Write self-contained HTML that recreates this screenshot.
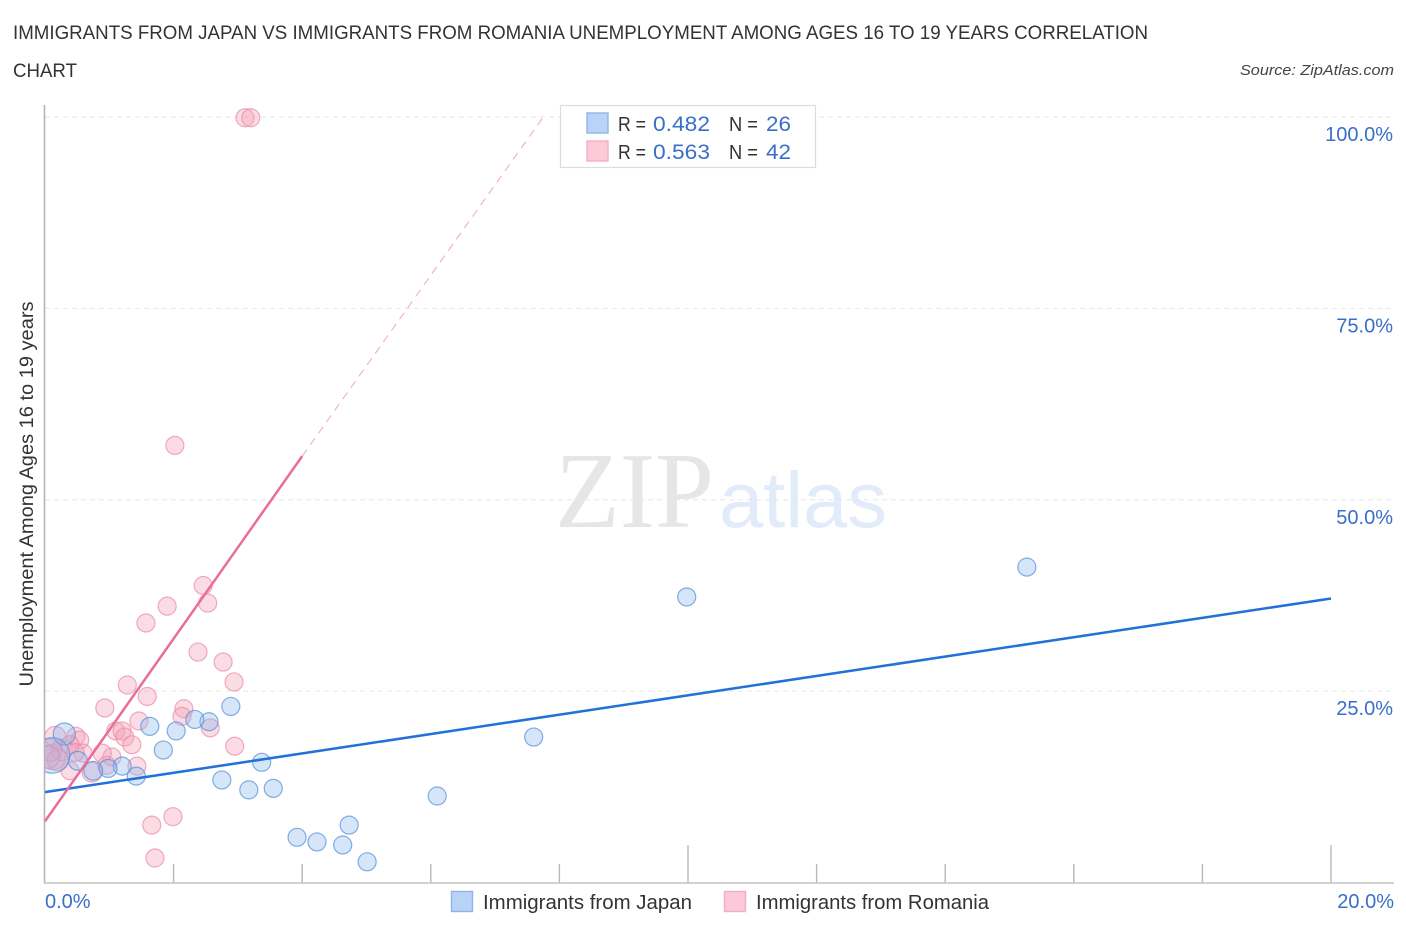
<!DOCTYPE html>
<html lang="en">
<head>
<meta charset="utf-8">
<title>Immigrants from Japan vs Immigrants from Romania Unemployment Correlation Chart</title>
<style>
html,body{margin:0;padding:0;background:#fff;width:1406px;height:930px;overflow:hidden}
svg{display:block;font-family:"Liberation Sans",sans-serif}
</style>
</head>
<body>
<svg id="chart" width="1406" height="930" viewBox="0 0 1406 930" xmlns="http://www.w3.org/2000/svg">
  <defs><clipPath id="plot-clip"><rect x="45" y="100" width="1350" height="783"/></clipPath></defs>
  <text x="13" y="39" font-size="19" fill="#333" textLength="1135" lengthAdjust="spacingAndGlyphs">IMMIGRANTS FROM JAPAN VS IMMIGRANTS FROM ROMANIA UNEMPLOYMENT AMONG AGES 16 TO 19 YEARS CORRELATION</text>
  <text x="13" y="77" font-size="19" fill="#333" textLength="64" lengthAdjust="spacingAndGlyphs">CHART</text>
  <text x="1394" y="75" font-size="15" font-style="italic" fill="#444" text-anchor="end" textLength="154" lengthAdjust="spacingAndGlyphs">Source: ZipAtlas.com</text>

  <g>
    <text x="555" y="527" font-family="'Liberation Serif',serif" font-size="108" fill="#e6e6e6" textLength="159" lengthAdjust="spacingAndGlyphs">ZIP</text>
    <text x="719" y="527" font-size="79" fill="#e2ebf9" textLength="168" lengthAdjust="spacingAndGlyphs">atlas</text>
  </g>

  <g id="grid"></g>
  <g id="x-ticks"></g>
  <line x1="44.5" y1="105" x2="44.5" y2="883" stroke="#b5b5b5" stroke-width="1.6"/>
  <line x1="44" y1="883" x2="1394" y2="883" stroke="#c4c4c4" stroke-width="1.6"/>

  <g id="points" clip-path="url(#plot-clip)"></g>
  <g id="trends"></g>
  <g id="y-labels"></g>
  <g id="x-labels"></g>

  <text transform="translate(33,494) rotate(-90)" font-size="19" fill="#333" text-anchor="middle" textLength="385" lengthAdjust="spacingAndGlyphs">Unemployment Among Ages 16 to 19 years</text>

  <g>
    <rect x="560.5" y="105.5" width="255" height="62" fill="#fff" stroke="#dcdcdc" stroke-width="1.2"/>
    <rect x="587" y="113" width="21" height="20" fill="#b9d3f7" stroke="#8db5ea" stroke-width="1.4"/>
    <rect x="587" y="141" width="21" height="20" fill="#fcc9d8" stroke="#f4adc4" stroke-width="1.4"/>
    <text x="618" y="131" font-size="20" fill="#333" textLength="28" lengthAdjust="spacingAndGlyphs">R =</text>
    <text x="653" y="131" font-size="21" fill="#3a6fc9" textLength="57" lengthAdjust="spacingAndGlyphs">0.482</text>
    <text x="729" y="131" font-size="20" fill="#333" textLength="29" lengthAdjust="spacingAndGlyphs">N =</text>
    <text x="766" y="131" font-size="21" fill="#3a6fc9" textLength="25" lengthAdjust="spacingAndGlyphs">26</text>
    <text x="618" y="159" font-size="20" fill="#333" textLength="28" lengthAdjust="spacingAndGlyphs">R =</text>
    <text x="653" y="159" font-size="21" fill="#3a6fc9" textLength="57" lengthAdjust="spacingAndGlyphs">0.563</text>
    <text x="729" y="159" font-size="20" fill="#333" textLength="29" lengthAdjust="spacingAndGlyphs">N =</text>
    <text x="766" y="159" font-size="21" fill="#3a6fc9" textLength="25" lengthAdjust="spacingAndGlyphs">42</text>
  </g>

  <g>
    <rect x="451.5" y="891.5" width="21" height="20" fill="#b9d3f7" stroke="#8db5ea" stroke-width="1.4"/>
    <text x="483" y="909" font-size="20" fill="#333" textLength="209" lengthAdjust="spacingAndGlyphs">Immigrants from Japan</text>
    <rect x="724.5" y="891.5" width="21" height="20" fill="#fcc9d8" stroke="#f4adc4" stroke-width="1.4"/>
    <text x="756" y="909" font-size="20" fill="#333" textLength="233" lengthAdjust="spacingAndGlyphs">Immigrants from Romania</text>
  </g>
</svg>
<script>
const yTickValues = [25, 50, 75, 100];
const yTickLabels = ["25.0%", "50.0%", "75.0%", "100.0%"];
const xTickValues = [2, 4, 6, 8, 10, 12, 14, 16, 18, 20];
const xMajorTicks = [10, 20];
const xEndValues = [0, 20];
const xEndLabels = ["0.0%", "20.0%"];

const japanX = [15.27, 9.98, 7.60, 6.10, 2.89, 2.55, 2.33, 2.04, 1.63, 1.84, 3.37, 2.75, 3.17, 3.55, 3.92, 4.23, 4.63, 4.73, 5.01, 1.42, 1.20, 0.98, 0.75, 0.51, 0.30, 0.11];
const japanY = [41.2, 37.3, 19.0, 11.3, 23.0, 21.0, 21.3, 19.8, 20.4, 17.3, 15.7, 13.4, 12.1, 12.3, 5.9, 5.3, 4.9, 7.5, 2.7, 13.9, 15.2, 14.9, 14.6, 15.9, 19.4, 16.6];
const japanWeight = [1, 1, 1, 1, 1, 1, 1, 1, 1, 1, 1, 1, 1, 1, 1, 1, 1, 1, 1, 1, 1, 1, 1.1, 1.1, 1.5, 3.9];

const romaniaX = [3.11, 3.20, 2.02, 2.46, 2.53, 1.90, 1.57, 2.38, 2.77, 2.94, 1.28, 1.59, 0.93, 2.16, 2.13, 1.46, 2.57, 1.10, 1.20, 1.24, 1.35, 2.95, 0.48, 0.54, 0.16, 1.43, 1.04, 0.89, 0.59, 0.39, 0.73, 0.96, 1.66, 1.99, 1.71, 0.12, 0.26, 0.08, 0.20, 0.39, 0.47, 0.05];
const romaniaY = [99.9, 99.9, 57.1, 38.8, 36.5, 36.1, 33.9, 30.1, 28.8, 26.2, 25.8, 24.3, 22.8, 22.7, 21.7, 21.1, 20.2, 19.8, 19.8, 19.0, 18.0, 17.8, 19.1, 18.6, 19.0, 15.2, 16.4, 16.9, 16.9, 14.6, 14.4, 15.3, 7.5, 8.6, 3.2, 16.4, 17.3, 17.3, 16.0, 18.0, 17.0, 16.4];
const romaniaWeight = [1, 1, 1, 1, 1, 1, 1, 1, 1, 1, 1, 1, 1, 1, 1, 1, 1, 1, 1, 1, 1, 1, 1, 1, 1.4, 1, 1, 1, 1, 1, 1.2, 1, 1, 1, 1, 2, 1.4, 1.6, 1.4, 1, 1, 1.6];

const japanTrend = [0, 11.8, 20, 37.1];
const romaniaTrend = [0, 8.0, 4, 55.7];
const romaniaTrendExtension = [4, 55.7, 7.75, 100];

const NS = "http://www.w3.org/2000/svg";
const xScale = v => 45 + (v - 0) * (1331 - 45) / 20;
const yScale = v => 882.5 - v * (882.5 - 117) / 100;
const radiusScale = w => 9 * Math.sqrt(w);

function make(parentId, tag, attrs) {
  const el = document.createElementNS(NS, tag);
  for (const k in attrs) el.setAttribute(k, attrs[k]);
  document.getElementById(parentId).appendChild(el);
  return el;
}

yTickValues.forEach((v, i) => {
  const g = make("grid", "line", {x1: 45, x2: 1394, y1: yScale(v), y2: yScale(v), stroke: "#e6e6e6", "stroke-width": 1, "stroke-dasharray": "5 4"});
  
  
  const t = make("y-labels", "text", {x: 1393, y: yScale(v) + 24, "font-size": 20, fill: "#3a6fc9", "text-anchor": "end"});
  t.textContent = yTickLabels[i];
  
  
});

xTickValues.forEach(v => {
  const top = xMajorTicks.includes(v) ? 845 : 864;
  const l = make("x-ticks", "line", {x1: xScale(v), x2: xScale(v), y1: top, y2: 883, stroke: "#b8b8b8", "stroke-width": 1.4});
  
  
});

xEndValues.forEach((v, i) => {
  const t = make("x-labels", "text", {x: i === 0 ? 45 : 1394, y: 908, "font-size": 20, fill: "#3a6fc9", "text-anchor": i === 0 ? "start" : "end"});
  t.textContent = xEndLabels[i];
  
  
});

function drawSeries(xs, ys, ws, fill, fillOpacity, stroke, strokeOpacity, seriesName) {
  xs.forEach((x, i) => {
    const c = make("points", "circle", {cx: xScale(x), cy: yScale(ys[i]), r: radiusScale(ws[i]), fill: fill, "fill-opacity": fillOpacity, stroke: stroke, "stroke-opacity": strokeOpacity, "stroke-width": 1.2});
    
    
  });
}
drawSeries(romaniaX, romaniaY, romaniaWeight, "#f5a0b8", 0.38, "#e88aa8", 0.7, "point-romania");
drawSeries(japanX, japanY, japanWeight, "#8ab6ee", 0.35, "#5a93de", 0.75, "point-japan");

function trend(arr, attrs) {
  return make("trends", "line", Object.assign({x1: xScale(arr[0]), y1: yScale(arr[1]), x2: xScale(arr[2]), y2: yScale(arr[3])}, attrs));
}
const tj = trend(japanTrend, {stroke: "#2271d9", "stroke-width": 2.5});


const tr = trend(romaniaTrend, {stroke: "#e96d9c", "stroke-width": 2.5});


const te = trend(romaniaTrendExtension, {stroke: "#eca6c0", "stroke-width": 1, "stroke-dasharray": "8 6"});


</script>
</body>
</html>
